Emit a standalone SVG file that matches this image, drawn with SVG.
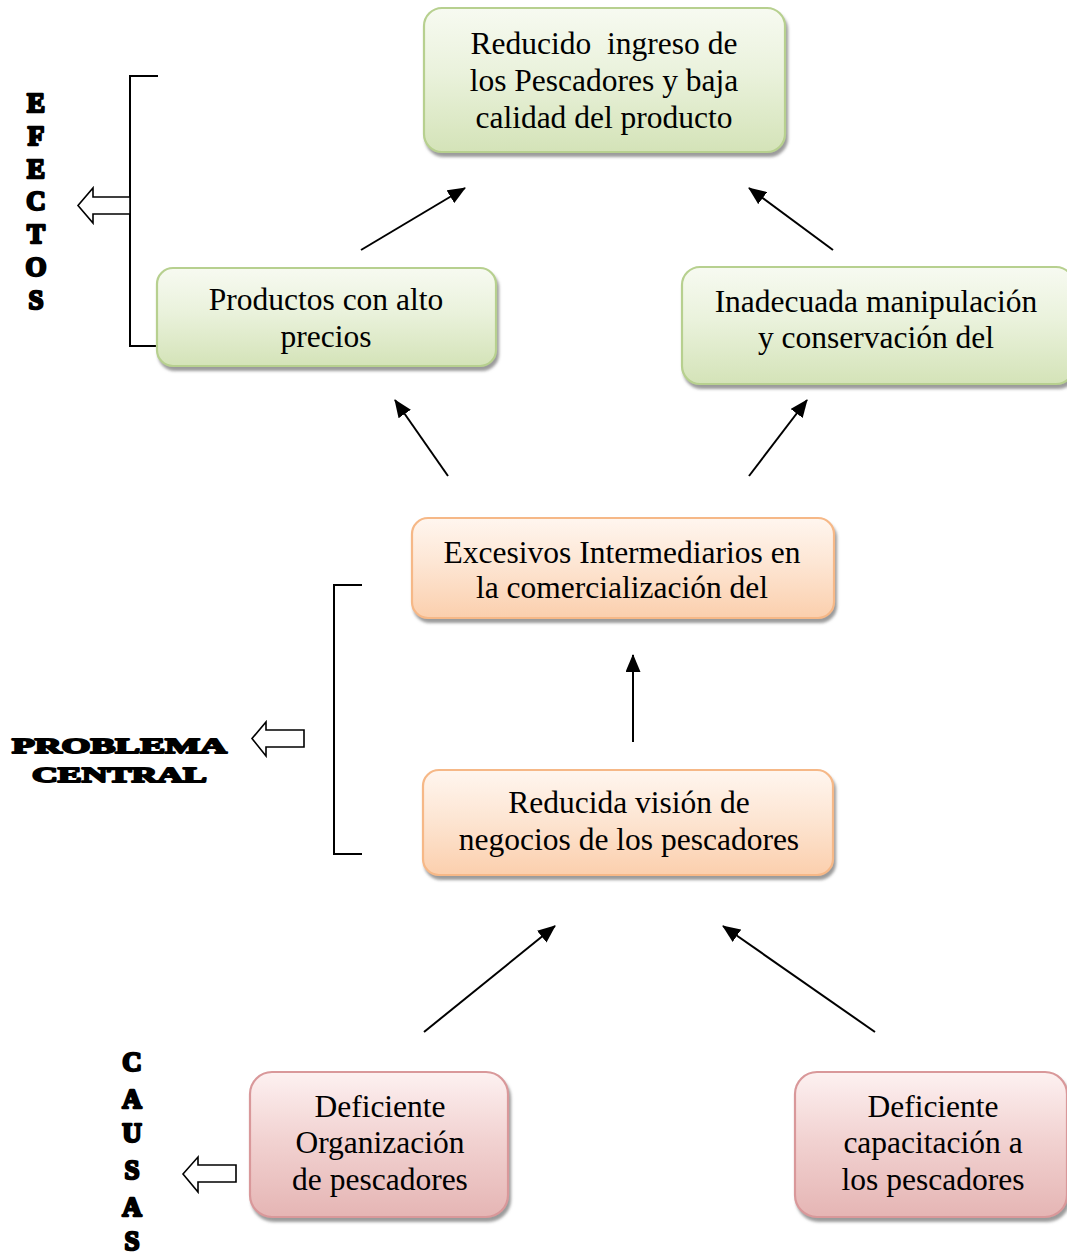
<svg xmlns="http://www.w3.org/2000/svg" width="1067" height="1254" viewBox="0 0 1067 1254">
  <defs>
    <linearGradient id="gGreen" x1="0" y1="0" x2="0" y2="1">
      <stop offset="0" stop-color="#f7faf1"/>
      <stop offset="0.45" stop-color="#eaf2dc"/>
      <stop offset="1" stop-color="#d4e3b8"/>
    </linearGradient>
    <linearGradient id="gOrange" x1="0" y1="0" x2="0" y2="1">
      <stop offset="0" stop-color="#fff6ef"/>
      <stop offset="0.45" stop-color="#fde6d4"/>
      <stop offset="1" stop-color="#fbcfad"/>
    </linearGradient>
    <linearGradient id="gPink" x1="0" y1="0" x2="0" y2="1">
      <stop offset="0" stop-color="#fdf1f1"/>
      <stop offset="0.45" stop-color="#f2d3d2"/>
      <stop offset="1" stop-color="#e5b5b4"/>
    </linearGradient>
    <filter id="shadow" x="-10%" y="-10%" width="125%" height="130%">
      <feDropShadow dx="2" dy="4" stdDeviation="1.6" flood-color="#7a7a7a" flood-opacity="0.75"/>
    </filter>
    <marker id="head" viewBox="0 0 18 15" refX="17" refY="7.5" markerWidth="18" markerHeight="15" markerUnits="userSpaceOnUse" orient="auto">
      <path d="M0,0 L18,7.5 L0,15 z" fill="#000"/>
    </marker>
  </defs>
  <style>
    .box { stroke-width: 2.2; filter: url(#shadow); }
    .green { fill: url(#gGreen); stroke: #b7d08f; }
    .orange { fill: url(#gOrange); stroke: #f6b887; }
    .pink { fill: url(#gPink); stroke: #d9989a; }
    .txt { font-family: "Liberation Serif", "Times New Roman", serif; font-size: 31.5px; fill: #000; text-anchor: middle; white-space: pre; }
    .lbl { font-family: "Liberation Serif", "Times New Roman", serif; font-weight: bold; fill: #000; stroke: #000; stroke-width: 2.4; stroke-linejoin: round; text-anchor: middle; }
    .conn { stroke: #000; stroke-width: 2; fill: none; marker-end: url(#head); }
    .brk { stroke: #000; stroke-width: 2; fill: none; }
    .blk { stroke: #000; stroke-width: 1.6; fill: #fff; stroke-linejoin: miter; }
  </style>

  <!-- side brackets, hollow pointers and group labels -->
  <g id="label-efectos">
    <path class="brk" d="M158,76 H130 V346 H158"/>
    <path class="blk" d="M130,197 H93 V188 L78,205.5 L93,223 V214 H130 Z"/>
    <g class="lbl" font-size="27">
      <text x="36" y="112">E</text>
      <text x="36" y="145">F</text>
      <text x="36" y="178">E</text>
      <text x="36" y="210">C</text>
      <text x="36" y="243">T</text>
      <text x="36" y="276">O</text>
      <text x="36" y="309">S</text>
    </g>
  </g>

  <g id="label-problema">
    <path class="brk" d="M362,585 H334 V854 H362"/>
    <path class="blk" d="M304,730 H266 V722 L252,738.5 L266,756 V747 H304 Z"/>
    <g class="lbl" font-size="22" style="text-anchor:start;stroke-width:1.8">
      <text x="12" y="753" textLength="215" lengthAdjust="spacingAndGlyphs">PROBLEMA</text>
      <text x="32" y="782" textLength="175" lengthAdjust="spacingAndGlyphs">CENTRAL</text>
    </g>
  </g>

  <g id="label-causas">
    <path class="blk" d="M236,1165 H198 V1157 L183,1174 L198,1192 V1182 H236 Z"/>
    <g class="lbl" font-size="27">
      <text x="132" y="1071">C</text>
      <text x="132" y="1108">A</text>
      <text x="132" y="1142">U</text>
      <text x="132" y="1179">S</text>
      <text x="132" y="1216">A</text>
      <text x="132" y="1250">S</text>
    </g>
  </g>

  <!-- nodes -->
  <g id="node-ingreso">
    <rect class="box green" x="424" y="8" width="361" height="144" rx="18"/>
    <text class="txt" x="604" y="54">Reducido  ingreso de</text>
    <text class="txt" x="604" y="91">los Pescadores y baja</text>
    <text class="txt" x="604" y="128">calidad del producto</text>
  </g>

  <g id="node-precios">
    <rect class="box green" x="157" y="268" width="339" height="98" rx="16"/>
    <text class="txt" x="326" y="310">Productos con alto</text>
    <text class="txt" x="326" y="347">precios</text>
  </g>

  <g id="node-manipulacion">
    <rect class="box green" x="682" y="267" width="392" height="117" rx="18"/>
    <text class="txt" x="876" y="312">Inadecuada manipulación</text>
    <text class="txt" x="876" y="348">y conservación del</text>
  </g>

  <g id="node-intermediarios">
    <rect class="box orange" x="412" y="518" width="422" height="100" rx="16"/>
    <text class="txt" x="622" y="563">Excesivos Intermediarios en</text>
    <text class="txt" x="622" y="598">la comercialización del</text>
  </g>

  <g id="node-vision">
    <rect class="box orange" x="423" y="770" width="410" height="105" rx="16"/>
    <text class="txt" x="629" y="813">Reducida visión de</text>
    <text class="txt" x="629" y="850">negocios de los pescadores</text>
  </g>

  <g id="node-organizacion">
    <rect class="box pink" x="250" y="1072" width="258" height="145" rx="22"/>
    <text class="txt" x="380" y="1117">Deficiente</text>
    <text class="txt" x="380" y="1153">Organización</text>
    <text class="txt" x="380" y="1190">de pescadores</text>
  </g>

  <g id="node-capacitacion">
    <rect class="box pink" x="795" y="1072" width="272" height="145" rx="22"/>
    <text class="txt" x="933" y="1117">Deficiente</text>
    <text class="txt" x="933" y="1153">capacitación a</text>
    <text class="txt" x="933" y="1190">los pescadores</text>
  </g>

  <!-- cause-effect connectors -->
  <g id="connectors">
    <line class="conn" x1="361" y1="250" x2="465" y2="188"/>
    <line class="conn" x1="833" y1="250" x2="749" y2="188"/>
    <line class="conn" x1="448" y1="476" x2="395" y2="400"/>
    <line class="conn" x1="749" y1="476" x2="807" y2="400"/>
    <line class="conn" x1="633" y1="742" x2="633" y2="655"/>
    <line class="conn" x1="424" y1="1032" x2="555" y2="926"/>
    <line class="conn" x1="875" y1="1032" x2="723" y2="926"/>
  </g>
</svg>
